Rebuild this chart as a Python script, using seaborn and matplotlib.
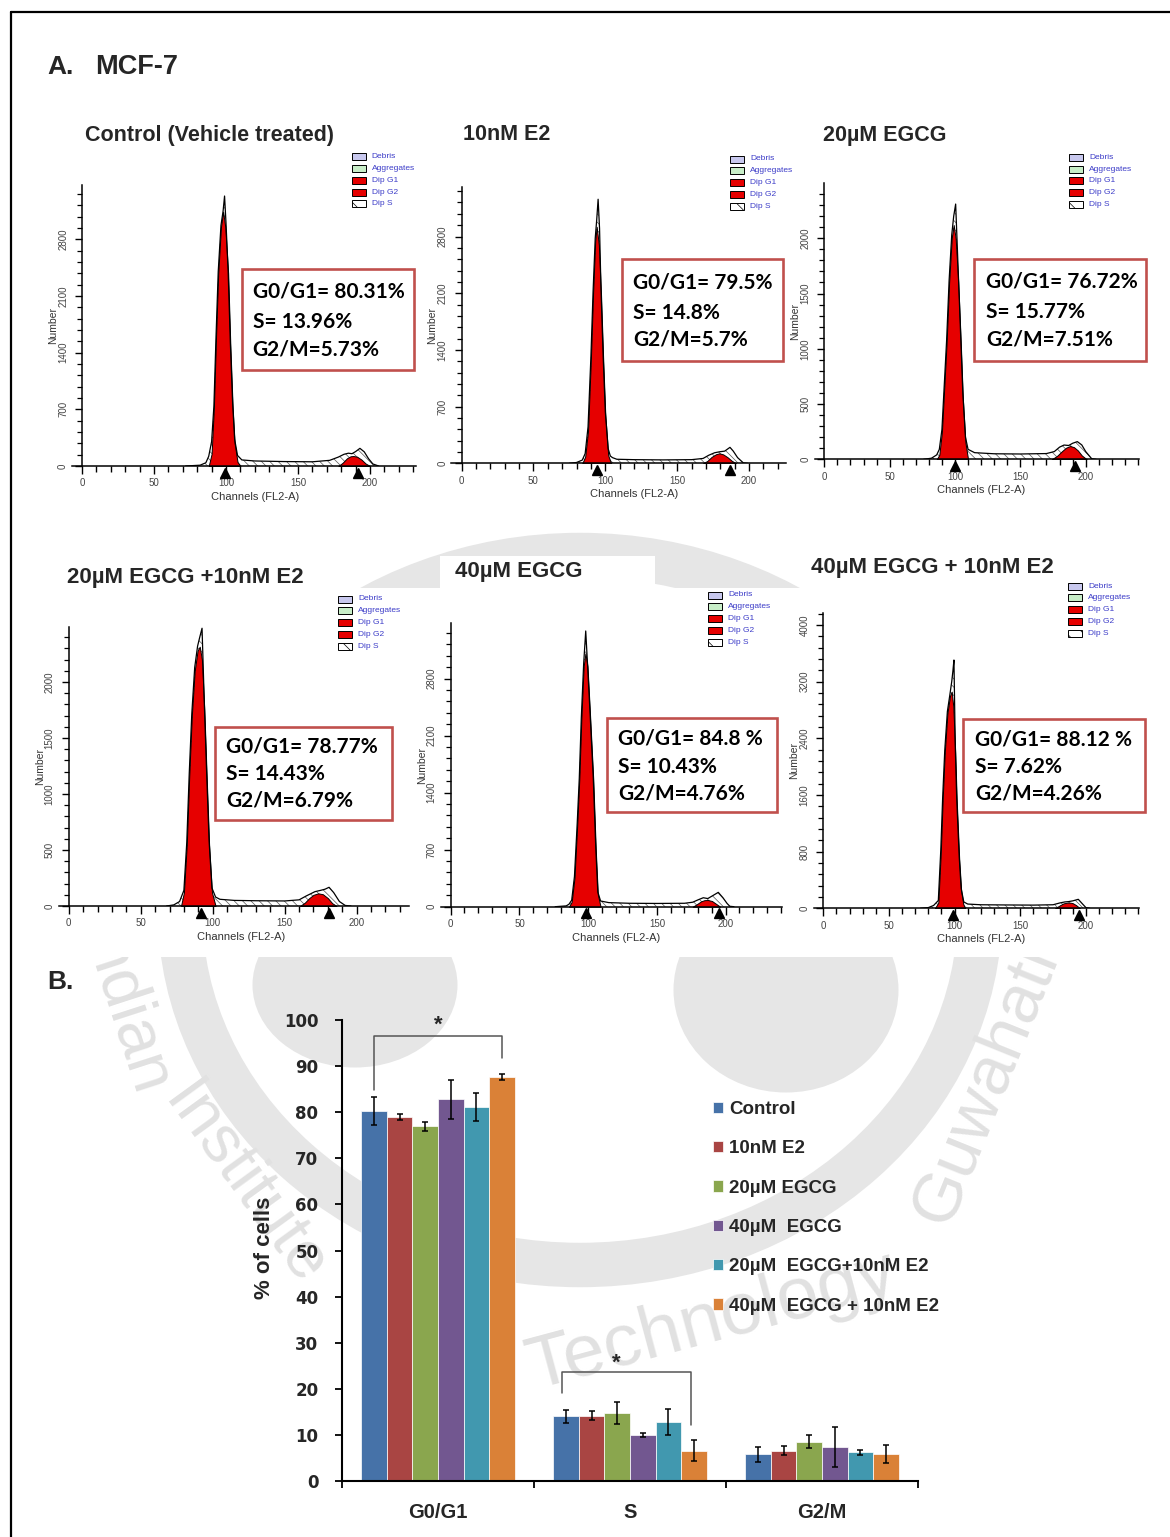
import numpy as np
import pandas as pd
import matplotlib
matplotlib.use("Agg")
import matplotlib.pyplot as plt
import seaborn as sns
from matplotlib.patches import Rectangle, Ellipse
from matplotlib.lines import Line2D

sns.set_theme(style="white")
plt.rcParams["font.family"] = ["Liberation Sans", "DejaVu Sans"]
plt.rcParams["hatch.color"] = "#555555"
plt.rcParams["hatch.linewidth"] = 0.5

W, H = 1170, 1537

# ---------------- Panel A data ----------------
ctrl_tot_ch = [72, 82, 86, 88, 90, 91.6, 93, 94.6, 96.5, 98, 99, 100, 101.5, 103, 104.6, 106, 108, 111, 120, 140,
               160, 172, 178, 182, 185, 187.5, 190, 193, 196, 199, 202, 206]
ctrl_tot = [0, 10, 40, 120, 300, 740, 1560, 2400, 2970, 3150, 3333, 3000, 2400, 1530, 780, 330, 130, 75, 62, 55,
            52, 70, 110, 145, 158, 152, 178, 218, 175, 90, 25, 0]
ctrl_g1_ch = [88, 90, 91.6, 93, 94.6, 96.5, 98, 99.5, 101.5, 103, 104.6, 106, 108, 110]
ctrl_g1 = [0, 150, 730, 1550, 2380, 2950, 3140, 2950, 2380, 1500, 730, 280, 50, 0]
ctrl_g2_ch = [178, 181, 184, 186.5, 188.5, 191, 194, 197, 200]
ctrl_g2 = [0, 40, 95, 120, 123, 115, 80, 30, 0]
ctrl_marks = [99, 192]

e2_tot_ch = [75, 80, 84, 86, 88, 90, 91.5, 93, 94, 95, 96, 97, 98.5, 100, 102, 103.5, 105, 108, 120, 140,
             160, 168, 172, 176, 179.7, 183, 186.7, 189, 192, 196, 199]
e2_tot = [0, 10, 40, 120, 450, 1320, 2120, 2780, 3000, 3260, 2900, 2150, 1330, 640, 180, 90, 70, 50, 45, 42,
          45, 60, 100, 130, 143, 150, 197, 150, 70, 5, 0]
e2_g1_ch = [84, 86, 88, 90, 91.5, 93, 94, 95.5, 97, 98.5, 100, 102, 104]
e2_g1 = [0, 80, 400, 1300, 2100, 2750, 2920, 2700, 2100, 1300, 600, 100, 0]
e2_g2_ch = [168, 171, 174, 177, 179.3, 182, 185, 188, 191]
e2_g2 = [0, 30, 80, 112, 123, 110, 75, 30, 0]
e2_marks = [94.5, 187]

egcg20_tot_ch = [76, 82, 86, 88, 90, 92, 93.6, 95.5, 97.5, 99, 100.5, 102, 104.4, 106, 108, 110, 115, 130, 150, 170,
                 176, 180, 183.4, 187, 190, 193.6, 197, 200, 204.6, 208]
egcg20_tot = [0, 10, 40, 90, 270, 720, 1080, 1620, 2030, 2200, 2310, 1850, 1100, 600, 200, 90, 60, 50, 48, 52,
              70, 110, 129, 125, 145, 160, 130, 70, 5, 0]
egcg20_g1_ch = [86, 88, 90, 92, 93.6, 95.5, 97.5, 99, 100.5, 102.5, 104.4, 106, 108, 110]
egcg20_g1 = [0, 40, 250, 700, 1060, 1600, 2000, 2120, 2000, 1600, 1060, 550, 150, 0]
egcg20_g2_ch = [174, 178, 182, 185, 188, 191, 194, 197, 200.8]
egcg20_g2 = [0, 30, 75, 105, 120, 110, 80, 35, 0]
egcg20_marks = [100, 192]

egcg20e2_tot_ch = [68, 73, 77, 80, 82, 83.7, 85.5, 87.5, 89.5, 91, 92.6, 94.2, 95.8, 97.5, 99.5, 102, 105, 115, 130, 150,
                   160, 165, 171, 175, 178, 180.8, 184, 188, 192, 196]
egcg20e2_tot = [0, 10, 40, 140, 570, 1180, 1720, 2130, 2320, 2400, 2480, 1800, 1190, 580, 160, 80, 60, 50, 47, 45,
                55, 90, 128, 140, 150, 167, 120, 40, 5, 0]
egcg20e2_g1_ch = [78, 80, 82, 83.7, 85.5, 87.5, 89.5, 91, 92.5, 94.2, 95.8, 97.5, 99.5, 102]
egcg20e2_g1 = [0, 120, 550, 1160, 1700, 2100, 2280, 2315, 2200, 1750, 1160, 550, 120, 0]
egcg20e2_g2_ch = [160.6, 164, 167, 170, 173.3, 176.5, 180, 183, 186]
egcg20e2_g2 = [0, 30, 70, 100, 113, 105, 70, 25, 0]
egcg20e2_marks = [91.9, 180.8]

egcg40_tot_ch = [76, 84, 86, 88, 90, 92, 93.5, 95, 96.7, 98.2, 99.5, 101.5, 103.7, 105.5, 107, 109, 115, 130, 150, 170,
                 176, 180, 183.7, 187, 191, 194.6, 198, 201, 203, 206]
egcg40_tot = [0, 10, 30, 80, 370, 1020, 1570, 2320, 2980, 3383, 2980, 2330, 1580, 730, 180, 70, 50, 42, 40, 42,
              55, 85, 110, 100, 140, 176, 110, 40, 5, 0]
egcg40_g1_ch = [86, 88, 90, 92, 93.5, 95, 96.7, 98, 99.5, 101.5, 103.7, 105.5, 107, 109]
egcg40_g1 = [0, 60, 350, 1000, 1555, 2300, 2950, 3109, 2950, 2300, 1555, 700, 150, 0]
egcg40_g2_ch = [176, 179, 182, 184.5, 187, 190, 193, 196]
egcg40_g2 = [0, 30, 65, 80, 82, 70, 35, 0]
egcg40_marks = [98.2, 195]

egcg40e2_tot_ch = [74, 80, 84, 87.6, 89.5, 90.9, 92.5, 94.5, 96.5, 97.8, 98.7, 99.5, 100.5, 101.6, 103.5, 105, 107, 110, 120, 140,
                   160, 175, 180, 184, 186.6, 190, 194.2, 197, 200, 203]
egcg40e2_tot = [0, 10, 40, 110, 830, 1560, 2230, 2780, 3030, 3200, 3350, 3507, 2300, 1560, 730, 280, 90, 60, 50, 47,
                45, 50, 75, 90, 94, 105, 127, 70, 10, 0]
egcg40e2_g1_ch = [85, 87.6, 89.5, 90.9, 92.5, 94.5, 96.5, 97.8, 99, 100.5, 101.6, 103.5, 105, 106.6, 108]
egcg40e2_g1 = [0, 80, 800, 1530, 2200, 2750, 3000, 3060, 2850, 2200, 1530, 700, 250, 60, 0]
egcg40e2_g2_ch = [176.5, 180, 183, 186, 188, 190, 192.5, 195.5]
egcg40e2_g2 = [0, 40, 70, 80, 80, 72, 45, 0]
egcg40e2_marks = [99, 195]

yticks_700 = [0, 700, 1400, 2100, 2800]
yticks_500 = [0, 500, 1000, 1500, 2000]
yticks_800 = [0, 800, 1600, 2400, 3200, 4000]
xticks_hist = [0, 50, 100, 150, 200]

panel_titles = ["Control (Vehicle treated)", "10nM E2", "20µM EGCG",
                "20µM EGCG +10nM E2", "40µM EGCG", "40µM EGCG + 10nM E2"]
panel_stats = [["G0/G1= 80.31%", "S= 13.96%", "G2/M=5.73%"],
               ["G0/G1= 79.5%", "S= 14.8%", "G2/M=5.7%"],
               ["G0/G1= 76.72%", "S= 15.77%", "G2/M=7.51%"],
               ["G0/G1= 78.77%", "S= 14.43%", "G2/M=6.79%"],
               ["G0/G1= 84.8 %", "S= 10.43%", "G2/M=4.76%"],
               ["G0/G1= 88.12 %", "S= 7.62%", "G2/M=4.26%"]]
legend_names = ["Debris", "Aggregates", "Dip G1", "Dip G2", "Dip S"]

# ---------------- Panel B data ----------------
phases = ["G0/G1", "S", "G2/M"]
treatments = ["Control", "10nM E2", "20µM EGCG", "40µM  EGCG",
              "20µM  EGCG+10nM E2", "40µM  EGCG + 10nM E2"]
g0g1_mean = [80.2, 79.0, 76.9, 82.8, 81.1, 87.6]
g0g1_err = [3.0, 0.6, 0.9, 4.2, 3.0, 0.65]
s_mean = [14.0, 14.2, 14.7, 10.0, 12.8, 6.6]
s_err = [1.5, 0.9, 2.4, 0.45, 2.9, 2.35]
g2m_mean = [5.8, 6.6, 8.5, 7.4, 6.2, 5.8]
g2m_err = [1.6, 1.0, 1.4, 4.3, 0.6, 1.95]
bar_colors = ["#4672A8", "#A94543", "#8AA64E", "#725790", "#4198AF", "#DA8137"]

RED = "#e60000"
WM = "#e6e6e6"
WMT = "#e1e1e1"

fig = plt.figure(figsize=(W / 100, H / 100), dpi=100)
fig.patch.set_facecolor("white")

# background (watermark) axes in pixel coordinates
bg = fig.add_axes([0, 0, 1, 1], zorder=-5)
bg.set_xlim(0, W)
bg.set_ylim(H, 0)
bg.axis("off")
bg.add_patch(Ellipse((580, 910), 800, 710, fill=False, lw=32, edgecolor=WM, zorder=1))
bg.add_patch(Ellipse((355, 985), 205, 165, facecolor=WM, edgecolor="none", zorder=1))
bg.add_patch(Ellipse((786, 990), 225, 205, facecolor=WM, edgecolor="none", zorder=1))
bg.text(712, 1322, "Technology", rotation=15, fontsize=54, color=WMT, ha="center", va="center", zorder=2)
bg.text(985, 1085, "Guwahati", rotation=68, fontsize=50, color=WMT, ha="center", va="center", zorder=2)
bg.text(122, 1010, "Indian", rotation=-72, fontsize=48, color=WMT, ha="center", va="center", zorder=2)
bg.text(245, 1185, "Institute", rotation=-54, fontsize=48, color=WMT, ha="center", va="center", zorder=2)
for (rx, ry, rw, rh) in [(16, 95, 1154, 412), (16, 588, 1154, 369), (440, 556, 215, 34), (805, 550, 365, 40)]:
    bg.add_patch(Rectangle((rx, ry), rw, rh, facecolor="white", edgecolor="none", zorder=5))

# overlay axes in pixel coordinates
ov = fig.add_axes([0, 0, 1, 1], zorder=10)
ov.set_xlim(0, W)
ov.set_ylim(H, 0)
ov.axis("off")
ov.patch.set_alpha(0)

# figure border (left & top)
ov.add_line(Line2D([11, 11], [12, H + 5], color="black", lw=1.6))
ov.add_line(Line2D([11, W + 5], [12, 12], color="black", lw=1.6))

ov.text(47, 67, "A.", fontsize=19, fontweight="bold", ha="left", va="center")
ov.text(95, 67, "MCF-7", fontsize=19.5, fontweight="bold", ha="left", va="center")
ov.text(47, 982, "B.", fontsize=19, fontweight="bold", ha="left", va="center")

panels = [
    dict(data=(ctrl_tot_ch, ctrl_tot, ctrl_g1_ch, ctrl_g1, ctrl_g2_ch, ctrl_g2, ctrl_marks), yt=yticks_700,
         geom=(82, 1.44, 466, 0.081, 232, 3470), title=(85, 135), leg=(351.7, 156.7),
         box=(241.7, 269, 414, 370), txt=(252.7, [291.7, 321.7, 350])),
    dict(data=(e2_tot_ch, e2_tot, e2_g1_ch, e2_g1, e2_g2_ch, e2_g2, e2_marks), yt=yticks_700,
         geom=(461.5, 1.438, 463.3, 0.081, 226, 3410), title=(463, 135), leg=(730, 159),
         box=(622.3, 259, 782.7, 360.7), txt=(633.3, [282.7, 312.7, 340])),
    dict(data=(egcg20_tot_ch, egcg20_tot, egcg20_g1_ch, egcg20_g1, egcg20_g2_ch, egcg20_g2, egcg20_marks), yt=yticks_500,
         geom=(824.3, 1.307, 459.3, 0.1105, 241, 2500), title=(823, 135), leg=(1069.3, 157.3),
         box=(974.3, 259.3, 1146, 360.7), txt=(986, [281.7, 311.7, 339.3])),
    dict(data=(egcg20e2_tot_ch, egcg20e2_tot, egcg20e2_g1_ch, egcg20e2_g1, egcg20e2_g2_ch, egcg20e2_g2, egcg20e2_marks), yt=yticks_500,
         geom=(68.7, 1.44, 906, 0.112, 236, 2494), title=(67, 577), leg=(338.3, 599),
         box=(215, 726.7, 391.7, 820), txt=(226, [746.7, 774.3, 800.7])),
    dict(data=(egcg40_tot_ch, egcg40_tot, egcg40_g1_ch, egcg40_g1, egcg40_g2_ch, egcg40_g2, egcg40_marks), yt=yticks_700,
         geom=(450.7, 1.375, 906.7, 0.0815, 241, 3477), title=(455, 572), leg=(708.3, 595),
         box=(606.7, 718.3, 777.3, 811.7), txt=(618.3, [738.3, 766.7, 793.3])),
    dict(data=(egcg40e2_tot_ch, egcg40e2_tot, egcg40e2_g1_ch, egcg40e2_g1, egcg40e2_g2_ch, egcg40e2_g2, egcg40e2_marks), yt=yticks_800,
         geom=(823.3, 1.313, 908.3, 0.0708, 240.7, 4166), title=(811, 567), leg=(1068.3, 586),
         box=(963.3, 719, 1145, 812.3), txt=(975, [740, 767.3, 794])),
]

leg_fc = ["#c8c8ee", "#c8eec8", RED, RED, "white"]

for i, P in enumerate(panels):
    tot_ch, tot, g1_ch, g1, g2_ch, g2, marks = P["data"]
    x0, pxch, base, pxcnt, xmax, ymax = P["geom"]
    xmin = -7
    left = x0 + xmin * pxch
    right = x0 + xmax * pxch
    top = base - ymax * pxcnt
    axw, axh = right - left, base - top
    ax = fig.add_axes([left / W, 1 - base / H, axw / W, axh / H])
    ax.patch.set_alpha(0)
    ax.set_xlim(xmin, xmax)
    ax.set_ylim(0, ymax)

    ax.fill_between(tot_ch, tot, facecolor="white", hatch="\\\\\\\\", edgecolor="#555555", linewidth=0, zorder=1)
    ax.fill_between(g1_ch, g1, facecolor=RED, edgecolor="black", linewidth=0.7, zorder=2)
    ax.fill_between(g2_ch, g2, facecolor=RED, edgecolor="black", linewidth=0.7, zorder=2)
    sns.lineplot(x=np.array(tot_ch, float), y=np.array(tot, float), ax=ax, color="black",
                 linewidth=0.9, estimator=None, sort=False, zorder=3)
    ax.plot(marks, [-6.5 / axh] * len(marks), marker="^", ls="none", color="black", ms=7,
            transform=ax.get_xaxis_transform(), clip_on=False, zorder=6)

    for s in ["top", "right"]:
        ax.spines[s].set_visible(False)
    ax.spines["left"].set_position(("data", 0))
    for s in ["left", "bottom"]:
        ax.spines[s].set_color("black")
        ax.spines[s].set_linewidth(1.1)

    yt = P["yt"]
    step = yt[1] - yt[0]
    ax.set_xticks(xticks_hist)
    ax.set_xticklabels([str(v) for v in xticks_hist])
    ax.set_xticks(np.arange(0, xmax, 10), minor=True)
    ax.set_yticks(yt)
    ax.set_yticklabels([str(v) for v in yt], rotation=90, va="center", ha="right")
    ax.set_yticks(np.arange(0, ymax, step / 5), minor=True)
    ax.tick_params(axis="x", which="major", bottom=True, direction="out", length=6, width=1,
                   color="black", labelsize=7, labelcolor="#444444", pad=3)
    ax.tick_params(axis="x", which="minor", bottom=True, direction="out", length=4, width=1, color="black")
    ax.tick_params(axis="y", which="major", left=True, direction="out", length=5, width=1,
                   color="black", labelsize=7, labelcolor="#444444", pad=5)
    ax.tick_params(axis="y", which="minor", left=True, direction="out", length=3.5, width=0.9, color="black")
    ax.set_xlabel("Channels (FL2-A)", fontsize=8, color="#333333")
    ax.xaxis.set_label_coords((120 - xmin) / (xmax - xmin), -31 / axh)
    ax.xaxis.label.set_va("center")
    ax.set_ylabel("Number", fontsize=7.5, color="#333333")
    ax.yaxis.set_label_coords((x0 - 29 - left) / axw, 0.5)
    ax.yaxis.label.set_va("center")
    ax.grid(False)

    # title
    tx, ty = P["title"]
    ov.text(tx, ty, panel_titles[i], fontsize=16 if i >= 3 else 15.5, fontweight="bold", ha="left", va="center")
    # legend of the analysis software
    lx, ly = P["leg"]
    clip = Rectangle((0, 0), 800 if i == 1 else W, H, transform=ov.transData) if i == 1 else None
    for k, nm in enumerate(legend_names):
        yy = ly + k * 11.8
        ov.add_patch(Rectangle((lx, yy - 3.5), 14, 7, facecolor=leg_fc[k], edgecolor="black", lw=0.7,
                               hatch="\\\\" if k == 4 else None))
        t = ov.text(lx + 20, yy, nm, fontsize=6, color="#3c3cc8", ha="left", va="center")
        if clip is not None:
            t.set_clip_path(clip)
            t.set_clip_on(True)
    # stats box
    bx1, by1, bx2, by2 = P["box"]
    ov.add_patch(Rectangle((bx1, by1), bx2 - bx1, by2 - by1, facecolor="white", edgecolor="#c0504d", lw=1.9))
    tlx, tys = P["txt"]
    for line, yy in zip(panel_stats[i], tys):
        ov.text(tlx, yy, line, fontsize=15, fontweight="bold", family=["Lato", "DejaVu Sans"],
                ha="left", va="center", color="black")

# ---------------- Panel B bar chart ----------------
ax_b = fig.add_axes([342 / W, 1 - 1481 / H, 576 / W, 461 / H])
ax_b.patch.set_alpha(0)
means = [g0g1_mean, s_mean, g2m_mean]
errs = [g0g1_err, s_err, g2m_err]
rows = []
for pi, ph in enumerate(phases):
    for ti, tr in enumerate(treatments):
        rows.append({"phase": ph, "treatment": tr, "value": means[pi][ti]})
df = pd.DataFrame(rows)
sns.barplot(data=df, x="phase", y="value", hue="treatment", order=phases, hue_order=treatments,
            palette=bar_colors, errorbar=None, saturation=1, width=0.8, edgecolor="white",
            linewidth=0.5, ax=ax_b)
ax_b.set_xlim(-0.5, 2.5)
ax_b.set_ylim(0, 100)

centers = {}
bw = 0.8 / len(treatments)
for p in ax_b.patches:
    if abs(p.get_width() - bw) > 0.01:
        continue
    h = p.get_height()
    cx = p.get_x() + p.get_width() / 2
    ci = int(round(cx))
    hi = int(round((cx - ci + 0.4) / bw - 0.5))
    centers[(ci, hi)] = cx
    ax_b.errorbar(cx, h, yerr=errs[ci][hi], color="black", capsize=2.2, elinewidth=1.1,
                  capthick=1.1, zorder=5)

# significance brackets
xl, xr = centers[(0, 0)], centers[(0, 5)]
ax_b.plot([xl, xl, xr, xr], [84.8, 96.6, 96.6, 91.7], color="#555555", lw=1.1, clip_on=False)
ax_b.text(0.0, 97.6, "*", ha="center", va="baseline", fontsize=16, fontweight="bold", clip_on=False)
xl, xr = centers[(1, 0)], centers[(1, 5)]
ax_b.plot([xl - 0.02, xl - 0.02, xr - 0.015, xr - 0.015], [19.1, 23.7, 23.7, 12.1], color="#555555", lw=1.1)
ax_b.text(0.93, 24.4, "*", ha="center", va="baseline", fontsize=16, fontweight="bold")

for s in ["top", "right"]:
    ax_b.spines[s].set_visible(False)
for s in ["left", "bottom"]:
    ax_b.spines[s].set_color("black")
    ax_b.spines[s].set_linewidth(1.5)
ax_b.set_yticks(range(0, 101, 10))
ax_b.set_yticklabels([str(v) for v in range(0, 101, 10)])
for lbl in ax_b.get_yticklabels():
    lbl.set_fontfamily("DejaVu Sans")
    lbl.set_fontweight("bold")
    lbl.set_fontsize(12)
ax_b.tick_params(axis="y", left=True, direction="out", length=5, width=1.3, color="black", pad=12)
ax_b.set_xticks([0, 1, 2])
ax_b.set_xticklabels(phases, fontsize=14.5, fontweight="bold")
ax_b.set_xticks([-0.5, 0.5, 1.5, 2.5], minor=True)
ax_b.tick_params(axis="x", which="major", bottom=False, length=0, pad=16)
ax_b.tick_params(axis="x", which="minor", bottom=True, direction="out", length=5, width=1.3, color="black")
ax_b.set_xlabel("")
ax_b.set_ylabel("% of cells", fontsize=16, fontweight="bold")
ax_b.yaxis.set_label_coords((264 - 342) / 576, (1481 - 1248) / 461)
ax_b.yaxis.label.set_va("center")
ax_b.grid(False)

handles, labels = ax_b.get_legend_handles_labels()
ax_b.legend(handles, labels, loc="upper left", bbox_to_anchor=(713 / W, 1 - 1101 / H),
            bbox_transform=fig.transFigure, frameon=False,
            prop={"family": "Liberation Sans", "weight": "bold", "size": 13.5},
            handlelength=0.55, handleheight=0.55, handletextpad=0.3, labelspacing=1.19,
            borderpad=0, borderaxespad=0)

fig.savefig("out.png", dpi=100, facecolor="white")
